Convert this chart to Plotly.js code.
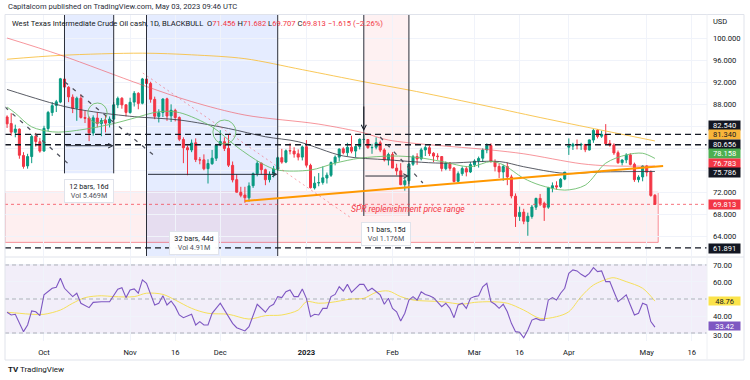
<!DOCTYPE html>
<html><head><meta charset="utf-8">
<script src="https://cdn.plot.ly/plotly-3.0.1.min.js"></script>
<style>html,body{margin:0;padding:0;background:#fff;}#chart{width:750px;height:380px;}</style>
</head><body><div id="chart"></div>
<script>
// ---- candles (daily, Sep 20 2022 -> May 3 2023, weekdays) ----
const open = [85.7,84.5,82.9,83.5,78.7,76.8,78.5,82.2,81.2,
79.5,83.6,86.5,87.8,88.4,92.6,91.1,89.3,87.3,89.1,85.6,85.5,82.8,85.5,84.5,85.1,84.6,85.3,87.9,89.1,87.9,
86.5,88.4,90.0,88.2,92.6,91.8,88.9,85.8,86.5,89.0,85.9,86.9,85.6,81.6,80.1,79.7,81.0,77.9,77.9,76.3,77.2,78.2,
80.6,81.2,80.0,76.9,74.3,72.0,71.5,71.0,73.2,75.4,77.3,76.1,74.3,75.2,76.2,78.3,77.5,79.6,79.5,79.0,78.4,
80.3,76.9,72.8,73.7,73.8,74.6,75.1,77.4,78.4,79.9,79.2,80.2,79.5,80.3,81.6,81.6,80.1,80.2,81.0,79.7,77.9,
78.9,76.4,75.9,73.4,74.1,77.1,78.5,78.1,79.7,80.1,79.1,78.6,78.5,76.3,77.3,76.4,74.0,75.4,76.3,75.7,
77.0,77.7,78.2,79.7,80.5,77.6,76.7,75.7,76.7,74.8,71.3,67.6,68.4,66.7,67.6,69.3,70.9,70.0,69.3,72.8,73.2,73.0,74.4,
80.2,80.4,80.7,80.6,80.7,79.7,81.5,83.3,82.2,82.5,80.9,80.6,79.2,77.4,77.9,78.8,77.1,74.3,74.8,
76.8,75.7,71.456];
const high = [86.0,86.4,84.3,83.6,79.3,79.0,82.5,82.8,81.9,
84.1,86.8,88.4,88.8,92.8,93.0,91.3,89.8,89.4,89.8,86.8,85.8,86.0,86.6,85.5,86.0,85.8,88.4,89.4,89.3,88.0,
89.2,90.4,90.2,92.8,93.7,92.1,89.4,87.1,89.1,89.2,88.0,87.2,85.8,82.0,80.5,81.6,81.8,78.4,78.9,78.0,79.7,80.8,
83.3,82.0,82.6,77.6,75.3,73.0,73.0,73.8,75.6,77.7,77.4,76.3,75.8,76.8,78.5,79.9,79.8,80.9,80.2,79.8,80.5,
81.5,77.2,74.9,75.5,76.7,75.6,77.6,78.7,80.0,80.2,81.0,82.3,80.5,81.8,82.6,81.7,80.8,82.0,81.4,80.0,79.2,
79.3,77.2,77.3,74.7,77.3,78.8,79.1,80.1,80.5,80.5,79.3,79.1,78.6,77.6,77.5,76.6,75.8,76.7,76.7,77.5,
78.0,78.5,80.0,80.9,80.9,78.0,77.2,77.0,77.4,75.2,71.8,69.4,69.0,68.3,69.7,71.0,71.7,70.3,73.0,73.8,74.0,74.6,75.7,
81.8,81.0,81.6,81.0,80.8,81.6,83.5,83.5,83.2,84.4,81.5,80.9,79.6,78.0,79.1,79.1,77.4,75.1,76.9,
76.9,76.0,71.682];
const low = [83.7,82.3,82.0,78.1,76.3,76.3,77.3,80.3,79.2,
79.4,83.1,85.9,86.6,88.2,90.3,88.4,86.4,85.0,85.4,84.6,81.3,82.3,83.8,82.2,82.9,83.8,84.8,87.3,87.2,85.8,
86.3,87.6,87.1,88.0,91.0,88.3,85.3,84.7,85.7,85.0,84.8,84.9,81.3,77.3,75.1,79.3,77.5,77.1,76.0,73.6,77.0,77.7,
80.4,79.5,76.6,73.8,72.0,71.1,70.1,70.3,72.8,74.9,75.2,73.3,73.8,74.7,75.9,77.2,77.3,78.9,78.3,77.8,77.8,
76.5,72.7,72.5,73.1,73.4,73.6,74.8,76.9,77.6,78.9,78.6,79.1,78.4,79.8,80.9,79.9,79.0,79.8,79.3,77.6,76.9,
76.4,75.1,73.3,72.3,73.5,76.8,77.0,77.8,78.6,78.6,77.5,77.9,75.8,76.0,75.9,73.8,73.9,75.0,74.9,75.5,
76.6,76.5,77.5,79.1,77.4,75.8,74.6,74.1,73.3,70.9,65.7,66.8,66.2,64.1,67.2,68.8,69.5,66.8,69.0,72.0,72.5,72.8,74.2,
78.8,79.7,79.8,79.7,79.3,79.6,81.0,81.8,81.9,80.6,80.3,78.8,77.2,76.9,77.3,76.9,73.9,73.8,74.0,
74.9,71.2,69.707];
const close = [84.45,82.94,83.49,78.74,76.71,78.50,82.15,81.23,79.49,
83.63,86.52,87.76,88.45,92.64,91.13,89.35,87.27,89.11,85.61,85.46,82.82,85.55,84.51,85.05,84.58,85.32,87.91,89.08,87.90,86.53,
88.37,90.00,88.17,92.61,91.79,88.91,85.83,86.47,88.96,85.87,86.92,85.59,81.64,80.08,79.73,80.95,77.94,77.90,76.28,77.24,78.20,80.55,
81.22,79.98,76.93,74.25,72.01,71.46,71.02,73.17,75.39,77.28,76.11,74.29,75.19,76.23,78.29,77.49,79.56,79.53,78.96,78.40,80.26,
76.93,72.84,73.67,73.77,74.63,75.12,77.41,78.39,79.86,79.20,80.18,79.48,80.33,81.64,81.62,80.13,80.15,81.01,79.68,77.90,78.87,
76.41,75.88,73.39,74.11,77.14,78.47,78.06,79.72,80.14,79.06,78.59,78.49,76.34,77.30,76.36,73.95,75.39,76.32,75.68,77.05,
77.69,78.16,79.68,80.46,77.58,76.66,75.72,76.68,74.80,71.33,67.61,68.35,66.74,67.64,69.33,70.90,69.96,69.26,72.81,73.20,72.97,74.37,75.67,
80.42,80.71,80.61,80.70,79.74,81.53,83.26,82.16,82.52,80.83,80.60,79.16,77.37,77.87,78.76,77.07,74.30,74.76,76.78,
75.66,71.43,69.813];

// ---- time axis labels (bar index of first bar of each period) ----
const tickIdx  = [9, 30, 41, 52, 73, 94, 114, 125, 137, 156, 167];
const tickText = ['Oct','Nov','16','Dec','<b>2023</b>','Feb','Mar','16','Apr','May','16'];

// ---- moving averages ----
const maYellowIdx = [0,13,33,45,58,72,87,98,115,130,145,158];
const maYellowVal = [96.2,96.9,97.3,97.0,96.3,94.3,92.1,90.6,88.0,85.6,83.3,81.34];
const maPinkIdx = [0,13,33,45,58,76,87,93,118,126,140,147,158];
const maPinkVal = [100.05,96.96,91.5,88.5,86.05,84.4,82.8,81.5,79.7,79.0,77.2,76.8,76.78];
const maGreyIdx = [0,14,21,31,42,54,63,71,82,93,106,120,126,136,145,158];
const maGreyVal = [90.7,87.6,86.65,85.75,85.15,83.6,82.1,81.2,78.6,77.9,77.3,77.6,76.65,75.45,75.7,75.79];
const maGreenIdx = [0,2,6,11,14,20,26,31,37,42,50,56,62,66,74,80,86,94,100,106,113,118,121,126,130,136,141,146,151,155,158];
const maGreenVal = [87.5,86.4,83.9,83.0,83.0,83.6,84.5,85.5,86.65,86.5,83.9,80.3,77.3,76.05,76.05,77.3,78.2,78.6,78.35,77.6,76.65,77.6,77.0,74.55,73.3,72.4,73.3,77.3,78.8,79.1,78.16];

// ---- RSI pane ----
const rsiIdx = [0,1,2,3,4,5,6,7,8,9,11,12,13,14,16,17,18,20,21,23,25,27,28,29,30,31,32,33,34,36,37,38,39,40,41,42,43,45,46,47,48,49,50,52,53,55,56,58,59,61,63,64,65,66,67,68,69,70,71,72,73,74,75,76,77,78,79,80,81,82,83,84,86,87,88,89,91,92,93,94,95,96,97,98,99,100,101,102,103,104,106,107,108,109,110,111,112,113,114,115,116,117,118,119,120,121,122,123,124,125,126,127,128,129,130,131,132,133,134,135,136,137,138,139,140,141,142,143,144,145,146,147,148,149,150,151,152,153,154,155,156,157,158];
const rsiVal = [42.2,40.6,41.0,35.7,30.8,34.7,43.0,42.5,40.2,52.4,56.3,56.9,62.2,56.3,51.4,53.4,47.5,44.9,48.0,48.4,48.4,55.7,56.6,50.8,55.3,55.9,53.4,61.2,59.2,46.5,47.5,51.9,46.5,48.8,45.5,40.6,39.0,41.0,34.7,36.7,34.7,34.7,41.6,47.5,43.5,35.7,33.1,31.2,33.7,46.9,42.2,45.5,46.9,51.4,50.8,54.3,55.3,51.4,51.4,55.9,50.4,39.6,41.0,40.6,44.5,44.5,51.4,52.7,57.2,54.7,58.6,53.9,58.6,58.6,54.7,56.3,52.4,46.9,50.4,44.5,42.5,37.1,41.6,49.4,51.4,49.4,54.3,52.7,51.9,50.8,45.5,47.5,44.5,39.0,46.5,47.5,44.5,50.4,51.4,51.9,57.2,59.2,48.4,46.9,44.5,46.9,42.5,35.7,30.8,30.4,27.2,31.8,37.6,38.6,37.6,37.6,49.4,50.8,49.4,53.4,56.3,65.1,67.1,66.5,64.5,63.1,65.1,68.4,66.1,66.5,60.2,60.2,54.3,48.4,50.4,52.4,46.5,40.6,41.6,47.5,46.5,36.7,33.42];
const rsiMaIdx = [0,3,6,9,13,16,19,23,26,31,34,38,41,45,49,54,59,63,67,71,73,76,79,84,87,90,93,96,99,106,111,114,118,122,126,130,134,137,140,143,147,148,151,155,158];
const rsiMaVal = [42.2,41.6,41,41,43.5,47.5,50.8,51.9,51.4,51.4,53.4,52.7,49.4,44.5,41.6,41,38.2,40.2,40.6,43.5,48.4,47.5,48,50,50.4,53.9,54.7,51.4,49.4,48.4,47,48,48.4,47.5,43.5,38.6,39.6,42.5,51.4,58.2,62.2,62.5,60.2,56.3,48.76];

// ---- levels / labels ----
const hLevels = [82.540, 80.656, 61.891];
const lastPrice = 69.813;
const priceTicks = [64,68,72,76,80,84,88,92,96,100];
const priceTickShown = [true,true,true,false,false,false,true,true,true,true];
const rsiTicks = [30,40,50,60,70];
const rsiTickText = ['30.00','40.00','','60.00','70.00'];
const badgeValues = ['82.540','81.340','80.656','78.158','76.783','75.786','69.813','61.891'];
const rsiBadgeValues = ['48.76','33.42'];

// ---- drawings (bar index / price) ----
const dateRanges = [
  {i0:14, i1:26, pLow:75.45, pArrow:80.47, label:'12 bars, 16d', vol:'Vol 5.469M', li:20, lp:72.15, up:true},
  {i0:34, i1:66, pLow:60.42, pArrow:75.27, label:'32 bars, 44d', vol:'Vol 4.91M', li:45.5, lp:62.8, up:true},
  {i0:87, i1:98, pLow:67.7,  pArrow:74.96, label:'11 bars, 15d', vol:'Vol 1.176M', li:92.4, lp:64.35, up:false}
];
const sprZone = {i0:-0.51, i1:158.8, p0:62.9, p1:72.0};
const trendOrange = [[58,70.42],[160,76.78]];
const greyDashed = [[[-0.5,87.51],[15.8,76.6]], [[14.1,92.05],[36.6,78.24]], [[91,82.05],[101.4,73.7]]];
const pinkDotted = [[[33.1,93.69],[83.6,67.51]]];
const circles = [[19.7,24.4,84.6,88.24],[50.2,55.8,80.78,85.15]];
const downArrow = {i:87, pFrom:87.87, pTo:83.15};

// ================= build =================
const FONT = 'Roboto, "Noto Sans", Arial, sans-serif';
const TXT = '#131722';
const X0 = -0.51, X1 = 170.7, Y0 = 60.42, Y1 = 104.24;
const idx = close.map((_, k) => k);

const traces = [
  {type:'candlestick', x:idx, open:open, high:high, low:low, close:close, xaxis:'x', yaxis:'y',
   increasing:{line:{color:'#089981',width:1}, fillcolor:'#089981'},
   decreasing:{line:{color:'#f23645',width:1}, fillcolor:'#f23645'},
   whiskerwidth:0, hoverinfo:'skip'},
  {type:'scatter', mode:'lines', x:maYellowIdx, y:maYellowVal, line:{color:'rgba(248,190,60,0.85)',width:1,shape:'spline',smoothing:0.9}, hoverinfo:'skip'},
  {type:'scatter', mode:'lines', x:maPinkIdx, y:maPinkVal, line:{color:'rgba(242,80,90,0.6)',width:1,shape:'spline',smoothing:0.9}, hoverinfo:'skip'},
  {type:'scatter', mode:'lines', x:maGreyIdx, y:maGreyVal, line:{color:'rgba(60,63,74,0.85)',width:1,shape:'spline',smoothing:0.9}, hoverinfo:'skip'},
  {type:'scatter', mode:'lines', x:maGreenIdx, y:maGreenVal, line:{color:'rgba(110,190,110,0.9)',width:1,shape:'spline',smoothing:0.9}, hoverinfo:'skip'},
  {type:'scatter', mode:'lines', x:rsiMaIdx, y:rsiMaVal, xaxis:'x', yaxis:'y2', line:{color:'#f6e05a',width:1,shape:'spline',smoothing:0.9}, hoverinfo:'skip'},
  {type:'scatter', mode:'lines', x:rsiIdx, y:rsiVal, xaxis:'x', yaxis:'y2', line:{color:'#7e57c2',width:1.1}, hoverinfo:'skip'}
];

const shapes = [];
const seg = (x0,y0,x1,y1,line,extra) => Object.assign({type:'line', xref:'x', yref:'y', x0, y0, x1, y1, line}, extra||{});

dateRanges.forEach(r => {
  shapes.push({type:'rect', xref:'x', yref:'y', x0:r.i0, x1:r.i1, y0:r.pLow, y1:Y1, layer:'below',
    fillcolor: r.up ? 'rgba(41,98,255,0.12)' : 'rgba(242,54,69,0.07)', line:{width:0}});
});
shapes.push({type:'rect', xref:'x', yref:'y', x0:sprZone.i0, x1:sprZone.i1, y0:sprZone.p0, y1:sprZone.p1, layer:'below',
  fillcolor:'rgba(242,54,69,0.08)', line:{color:'rgba(242,54,69,0.55)', width:1}});
dateRanges.forEach(r => {
  shapes.push(seg(r.i0, r.pLow, r.i0, Y1, {color:'#2a2e39', width:1}));
  shapes.push(seg(r.i1, r.pLow, r.i1, Y1, {color:'#2a2e39', width:1}));
});
hLevels.forEach(p => shapes.push({type:'line', xref:'x domain', yref:'y', x0:0, x1:1, y0:p, y1:p,
  line:{color:'#131722', width:1.4, dash:'6px,4px'}}));
shapes.push({type:'line', xref:'x domain', yref:'y', x0:0, x1:1, y0:lastPrice, y1:lastPrice,
  line:{color:'rgba(242,54,69,0.7)', width:1, dash:'dot'}});
shapes.push(seg(trendOrange[0][0], trendOrange[0][1], trendOrange[1][0], trendOrange[1][1], {color:'#ff9800', width:2}));
greyDashed.forEach(l => shapes.push(seg(l[0][0], l[0][1], l[1][0], l[1][1], {color:'#50535e', width:1.3, dash:'4px,6px'})));
pinkDotted.forEach(l => shapes.push(seg(l[0][0], l[0][1], l[1][0], l[1][1], {color:'rgba(242,54,69,0.45)', width:1, dash:'2px,3px'})));
circles.forEach(c => shapes.push({type:'circle', xref:'x', yref:'y', x0:c[0], x1:c[1], y0:c[2], y1:c[3],
  line:{color:'rgba(110,190,110,0.9)', width:1}}));
shapes.push({type:'rect', xref:'x domain', yref:'y2', x0:0, x1:1, y0:30, y1:70, layer:'below',
  fillcolor:'rgba(126,87,194,0.1)', line:{width:0}});
[70,50,30].forEach(v => shapes.push({type:'line', xref:'x domain', yref:'y2', x0:0, x1:1, y0:v, y1:v,
  line:{color:'rgba(120,123,134,0.55)', width:1, dash:'4px,3px'}}));
const pxX = px => (px - 5) / 702, pxY = py => (360 - py) / 345;
shapes.push({type:'rect', xref:'paper', yref:'paper', x0:pxX(5), x1:pxX(744), y0:pxY(360), y1:pxY(14.5), line:{color:'#e0e3eb', width:1}});
shapes.push({type:'line', xref:'paper', yref:'paper', x0:pxX(5), x1:pxX(744), y0:pxY(257), y1:pxY(257), line:{color:'#e0e3eb', width:1}});
shapes.push({type:'line', xref:'paper', yref:'paper', x0:1, x1:1, y0:pxY(360), y1:pxY(14.5), line:{color:'#eef0f4', width:1}});

const ann = [];
ann.push({xref:'paper', yref:'paper', x:pxX(6), y:pxY(7), xanchor:'left', yanchor:'middle', showarrow:false,
  text:'Capitalcom published on TradingView.com, May 03, 2023 09:46 UTC', font:{size:7.6, color:'#2a2e39'}});
const R = s => '<span style="color:#f23645">' + s + '</span>';
ann.push({xref:'paper', yref:'paper', x:pxX(10), y:pxY(24), xanchor:'left', yanchor:'middle', showarrow:false,
  text:'West Texas Intermediate Crude Oil cash, 1D, BLACKBULL  O' + R('71.456') + ' H' + R('71.682') + ' L' + R('69.707') + ' C' + R('69.813') + ' ' + R('\u22121.615 (\u22122.26%)'),
  font:{size:7.6, color:TXT}});
ann.push({xref:'paper', yref:'paper', x:1, xshift:4, y:pxY(22), xanchor:'left', yanchor:'middle', showarrow:false, text:'USD', font:{size:7.5, color:TXT}});

const badgeStyle = [['#131722','#fff'],['#f9b53a','#131722'],['#131722','#fff'],['#4caf50','#fff'],['#f23645','#fff'],['#131722','#fff'],['#f23645','#fff'],['#131722','#fff']];
const badgePx = [125, 134.7, 144.3, 153.7, 163, 172, 204.7, 248.3];
const mainYpx = py => 100 - (py - 38.3) / 5.5;
badgeValues.forEach((t, k) => ann.push({xref:'paper', yref:'y', x:1, xshift:1, y:mainYpx(badgePx[k]), xanchor:'left', yanchor:'middle',
  showarrow:false, text:t, bgcolor:badgeStyle[k][0], font:{size:7.5, color:badgeStyle[k][1]}, width:30, height:8, borderpad:0.6}));
// RSI axis "30.00" label drawn as text, nudged just below the last-value badge
ann.push({xref:'paper', yref:'y2', x:1, xshift:4, y:rsiTicks[0], yshift:-2.5, xanchor:'left', yanchor:'middle', showarrow:false,
  text:rsiTickText[0], font:{size:7.6, color:TXT}});
const rsiStyle = [['#fbe34a','#131722'],['#7e57c2','#fff']];
const rsiBadgeShift = [0, 1];
rsiBadgeValues.forEach((t, k) => ann.push({xref:'paper', yref:'y2', x:1, xshift:1, y:parseFloat(t), yshift:rsiBadgeShift[k], xanchor:'left', yanchor:'middle',
  showarrow:false, text:t, bgcolor:rsiStyle[k][0], font:{size:7.5, color:rsiStyle[k][1]}, width:30, height:7, borderpad:0.6}));

dateRanges.forEach(r => {
  ann.push({xref:'x', yref:'y', x:r.li, y:r.lp, showarrow:false, xanchor:'center', yanchor:'middle',
    text:r.label + '<br><span style="color:#50535e">' + r.vol + '</span>', font:{size:7.2, color:TXT},
    bgcolor:'rgba(255,255,255,0.96)', bordercolor:'#e0e3eb', borderwidth:1, borderpad:2, width:44, height:18});
  ann.push({xref:'x', yref:'y', axref:'x', ayref:'y', x:r.i1, y:r.pArrow, ax:r.i0, ay:r.pArrow, text:'', showarrow:true,
    arrowhead:5, arrowsize:0.9, arrowwidth:1, arrowcolor:'#2a2e39', standoff:0, startstandoff:0});
});
ann.push({xref:'x', yref:'y', axref:'x', ayref:'y', x:downArrow.i, y:downArrow.pTo, ax:downArrow.i, ay:downArrow.pFrom, text:'', showarrow:true,
  arrowhead:5, arrowsize:1, arrowwidth:1, arrowcolor:'#131722', standoff:0});
ann.push({xref:'x', yref:'y', x:97.8, y:68.96, showarrow:false, xanchor:'center', yanchor:'middle',
  text:'<i>SPR replenishment price range</i>', font:{size:8.6, color:'#f23645'}});
ann.push({xref:'paper', yref:'paper', x:pxX(6), y:pxY(370), xanchor:'left', yanchor:'middle', showarrow:false,
  text:'<b>TV</b> TradingView', font:{size:8, color:TXT}});

const layout = {
  width:750, height:380, margin:{l:5, r:43, t:15, b:20, pad:0},
  paper_bgcolor:'#ffffff', plot_bgcolor:'rgba(0,0,0,0)', showlegend:false,
  font:{family:FONT, size:7.5, color:TXT},
  xaxis:{range:[X0, X1], anchor:'y2', tickmode:'array', tickvals:tickIdx, ticktext:tickText,
    showgrid:true, gridcolor:'#f0f3fa', gridwidth:1, zeroline:false, showline:false, ticks:'',
    tickfont:{size:7.6, color:TXT}, ticklabelstandoff:5, rangeslider:{visible:false}, fixedrange:true},
  yaxis:{domain:[pxY(256), 1], range:[Y0, Y1], side:'right', anchor:'x', tickmode:'array',
    tickvals:priceTicks, ticktext:priceTicks.map((v,k) => priceTickShown[k] ? v.toFixed(3) : ''),
    showgrid:true, gridcolor:'#f0f3fa', zeroline:false, showline:false, ticks:'', ticklabelstandoff:5,
    tickfont:{size:7.6, color:TXT}, fixedrange:true},
  yaxis2:{domain:[pxY(341), pxY(258)], range:[25.3, 74.1], side:'right', anchor:'x', tickmode:'array',
    tickvals:rsiTicks, ticktext:rsiTickText.map((t,k) => k === 0 ? '' : t),
    showgrid:true, gridcolor:'#f0f3fa', zeroline:false, showline:false, ticks:'', ticklabelstandoff:5,
    tickfont:{size:7.6, color:TXT}, fixedrange:true},
  shapes:shapes, annotations:ann
};
Plotly.newPlot('chart', traces, layout, {staticPlot:true, displayModeBar:false});
</script></body></html>
